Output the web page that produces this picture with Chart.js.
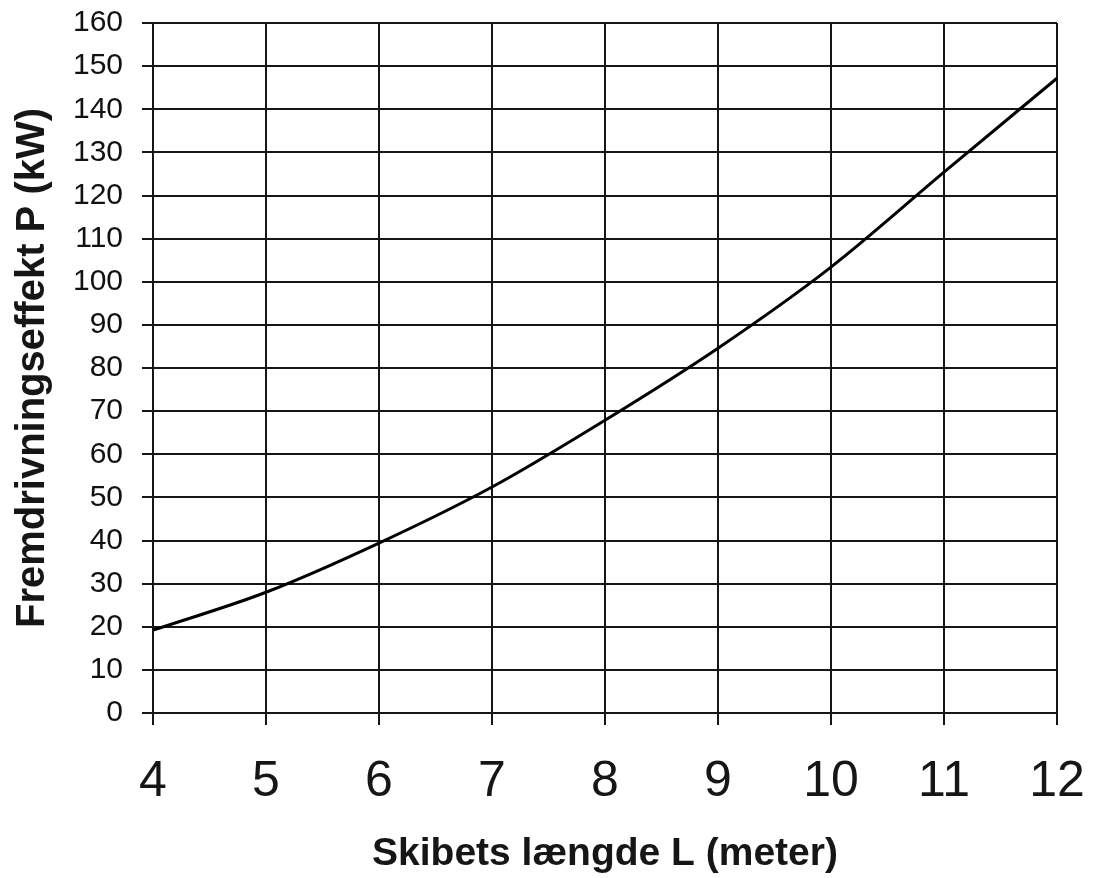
<!DOCTYPE html>
<html>
<head>
<meta charset="utf-8">
<title>Fremdrivningseffekt</title>
<script src="https://cdn.jsdelivr.net/npm/chart.js@4/dist/chart.umd.min.js"></script>
<style>
  html, body { margin: 0; padding: 0; background: #fff; }
  #wrap { width: 1093px; height: 878px; }
</style>
</head>
<body>
<div id="wrap"><canvas id="c" width="1093" height="878"></canvas></div>
<script>
// length of ship (m) and propulsion power (kW)
const lengths = [4, 5, 6, 7, 8, 9, 10, 11, 12]
const power = [19.2, 28.0, 39.4, 52.4, 67.9, 84.6, 103.4, 125.4, 147.2]

const xTitle = "Skibets længde L (meter)"
const yTitle = "Fremdrivningseffekt P (kW)"

const ink = "#161616"
const fam = "'Liberation Sans', Arial, sans-serif"

const points = lengths.map((x, i) => ({ x: x, y: power[i] }))

new Chart(document.getElementById("c"), {
  type: "line",
  data: {
    datasets: [{
      data: points,
      borderColor: "#000",
      borderWidth: 3,
      pointRadius: 0,
      cubicInterpolationMode: "monotone",
      fill: false,
    }],
  },
  options: {
    responsive: false,
    animation: false,
    layout: { padding: { top: 23, right: 36, bottom: 0, left: 0 } },
    plugins: { legend: { display: false }, tooltip: { enabled: false } },
    scales: {
      x: {
        type: "linear",
        min: 4,
        max: 12,
        ticks: { stepSize: 1, color: ink, padding: 27, font: { family: fam, size: 50 } },
        grid: { color: ink, lineWidth: 2, tickLength: 12 },
        border: { color: ink, width: 2 },
        title: {
          display: true,
          text: xTitle,
          color: ink,
          padding: { top: 0, bottom: 0 },
          font: { family: fam, size: 39, weight: "bold" },
        },
        afterFit: (s) => {
          s.height = 165
          s.paddingLeft = 0
          s.paddingRight = 0
        },
      },
      y: {
        min: 0,
        max: 160,
        ticks: { stepSize: 10, color: "#111", padding: 19, font: { family: fam, size: 30 } },
        grid: { color: ink, lineWidth: 2, tickLength: 11 },
        border: { color: ink, width: 2 },
        title: {
          display: true,
          text: yTitle,
          color: ink,
          padding: { top: 9, bottom: 0 },
          font: { family: fam, size: 40, weight: "bold" },
        },
        afterFit: (s) => {
          s.width = 153
          s.paddingTop = 0
          s.paddingBottom = 0
        },
      },
    },
  },
})
</script>
</body>
</html>
